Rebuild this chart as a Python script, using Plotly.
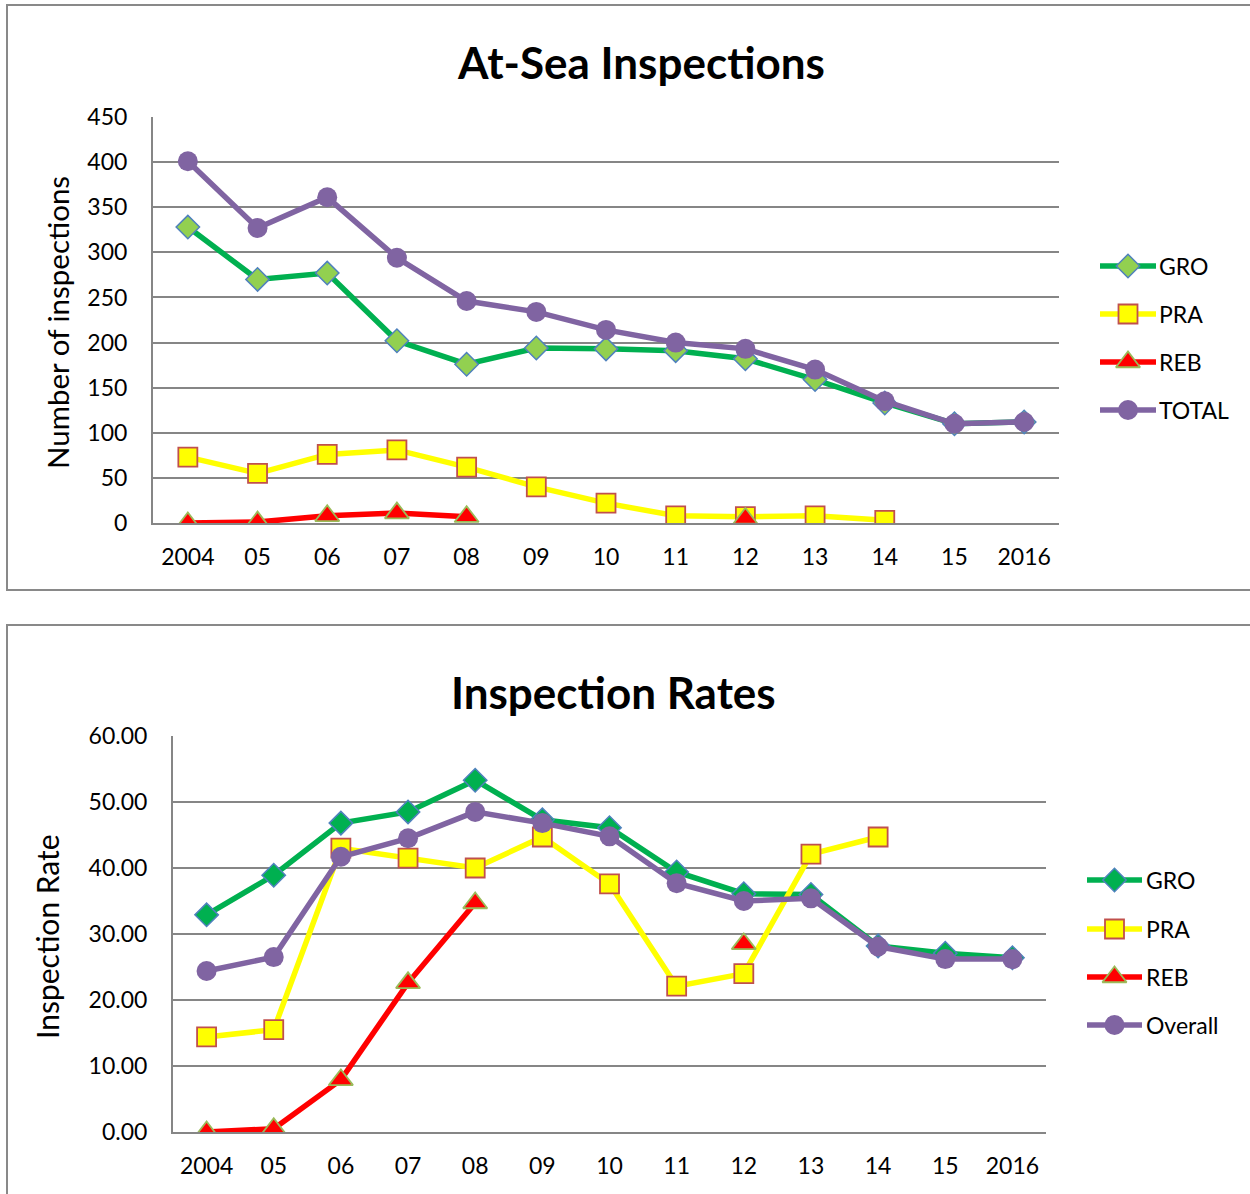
import plotly.graph_objects as go

W, H = 1250, 1194

years = ["2004", "05", "06", "07", "08", "09", "10", "11", "12", "13", "14", "15", "2016"]

# At-Sea Inspections (counts)
gro_count = [328, 270, 277, 202, 176, 194, 193, 191, 182, 159, 133, 110, 112]
pra_count = [73, 55, 76, 81, 62, 40, 22, 8, 7, 8, 3, None, None]
reb_count = [0, 1, 8, 11, 7, None, None, None, 5, None, None, None, None]
total_count = [401, 327, 361, 294, 246, 234, 214, 200, 193, 170, 135, 110, 112]

# Inspection Rates
gro_rate = [32.9, 38.9, 46.8, 48.5, 53.3, 47.3, 46.1, 39.4, 36.1, 36.0, 28.2, 27.1, 26.4]
pra_rate = [14.4, 15.5, 43.0, 41.5, 40.0, 44.7, 37.6, 22.1, 24.0, 42.1, 44.7, None, None]
reb_rate = [0.0, 0.5, 7.9, 22.6, 34.7, None, None, None, 28.5, None, None, None, None]
overall_rate = [24.4, 26.5, 41.7, 44.5, 48.5, 46.8, 44.8, 37.7, 35.0, 35.4, 28.1, 26.2, 26.2]

FONT = "Lato"
GRID = "#868686"
LINE_W = 5.5


def px_x(x):
    return x / W


def px_y(y):
    return 1 - y / H


# marker styles per series
MK_GRO_TOP = dict(symbol="diamond", size=18, color="#92D050", line=dict(color="#4F81BD", width=1.5))
MK_GRO_BOT = dict(symbol="diamond", size=18, color="#00B050", line=dict(color="#4F81BD", width=1.5))
MK_PRA = dict(symbol="square", size=19, color="#FFFF00", line=dict(color="#C0504D", width=1.8))
MK_REB = dict(symbol="triangle-up", size=21, color="#FF0000", line=dict(color="#9BBB59", width=1.8))
MK_TOT = dict(symbol="circle", size=20, color="#8064A2", line=dict(color="#8064A2", width=0))

series_top = [
    ("GRO", gro_count, "#00B050", MK_GRO_TOP),
    ("PRA", pra_count, "#FFFF00", MK_PRA),
    ("REB", reb_count, "#FF0000", MK_REB),
    ("TOTAL", total_count, "#8064A2", MK_TOT),
]
series_bot = [
    ("GRO", gro_rate, "#00B050", MK_GRO_BOT),
    ("PRA", pra_rate, "#FFFF00", MK_PRA),
    ("REB", reb_rate, "#FF0000", MK_REB),
    ("Overall", overall_rate, "#8064A2", MK_TOT),
]

fig = go.Figure()

for name, vals, col, mk in series_top:
    fig.add_trace(go.Scatter(
        x=years, y=vals, name=name, mode="lines+markers",
        line=dict(color=col, width=LINE_W), marker=mk, connectgaps=False,
        xaxis="x", yaxis="y", showlegend=False,
    ))

for name, vals, col, mk in series_bot:
    fig.add_trace(go.Scatter(
        x=years, y=vals, name=name, mode="lines+markers",
        line=dict(color=col, width=LINE_W), marker=mk, connectgaps=False,
        xaxis="x2", yaxis="y2", showlegend=False,
    ))

# Legend keys drawn on a pixel-space overlay axis (line swatch + marker + label)
legend_top_rows = [266, 314, 362, 410]
legend_bot_rows = [880, 929, 977, 1025]
legend_annotations = []


def add_legend(series, rows, x0, x1, text_x):
    for (name, _, col, mk), yy in zip(series, rows):
        fig.add_trace(go.Scatter(
            x=[x0, x1], y=[yy, yy], mode="lines", line=dict(color=col, width=LINE_W),
            xaxis="x3", yaxis="y3", showlegend=False, hoverinfo="skip",
        ))
        fig.add_trace(go.Scatter(
            x=[(x0 + x1) / 2], y=[yy], mode="markers", marker=mk,
            xaxis="x3", yaxis="y3", showlegend=False, hoverinfo="skip",
        ))
        legend_annotations.append(dict(
            text=name, xref="paper", yref="paper", x=px_x(text_x), y=px_y(yy),
            xanchor="left", yanchor="middle", showarrow=False,
            font=dict(family=FONT, size=23, color="#000000"),
        ))


add_legend(series_top, legend_top_rows, 1100, 1156, 1157)
add_legend(series_bot, legend_bot_rows, 1087, 1142, 1144)

tick_font = dict(family=FONT, size=23, color="#000000")

axis_common = dict(
    type="category", range=[-0.5, 12.5], showgrid=False, showline=True,
    linecolor=GRID, linewidth=2, ticks="", tickfont=tick_font,
    ticklabelstandoff=12, fixedrange=True, automargin=False,
)
yaxis_common = dict(
    showgrid=True, gridcolor=GRID, gridwidth=2, showline=True, linecolor=GRID,
    linewidth=2, zeroline=False, ticks="", tickfont=tick_font,
    ticklabelstandoff=19, fixedrange=True, automargin=False,
)

fig.update_layout(
    width=W, height=H,
    margin=dict(l=0, r=0, t=0, b=0, pad=0, autoexpand=False),
    paper_bgcolor="white", plot_bgcolor="rgba(0,0,0,0)",
    showlegend=False,
    xaxis=dict(domain=[px_x(153), px_x(1059)], anchor="y", **axis_common),
    yaxis=dict(domain=[px_y(523), px_y(117)], anchor="x", range=[0, 450],
               tickvals=list(range(0, 451, 50)), **yaxis_common),
    xaxis2=dict(domain=[px_x(173), px_x(1046)], anchor="y2", **axis_common),
    yaxis2=dict(domain=[px_y(1132), px_y(736)], anchor="x2", range=[0, 60],
                tickvals=list(range(0, 61, 10)), tickformat=".2f", **yaxis_common),
    xaxis3=dict(domain=[0, 1], range=[0, W], visible=False, fixedrange=True),
    yaxis3=dict(domain=[0, 1], range=[H, 0], visible=False, fixedrange=True,
                anchor="x3"),
    shapes=[
        dict(type="rect", xref="paper", yref="paper",
             x0=px_x(7), x1=px_x(1262), y0=px_y(590), y1=px_y(5),
             line=dict(color="#898989", width=2), fillcolor="rgba(0,0,0,0)", layer="below"),
        dict(type="rect", xref="paper", yref="paper",
             x0=px_x(7), x1=px_x(1262), y0=px_y(1210), y1=px_y(625),
             line=dict(color="#898989", width=2), fillcolor="rgba(0,0,0,0)", layer="below"),
    ],
    annotations=[
        dict(text="<b>At-Sea Inspections</b>", xref="paper", yref="paper",
             x=px_x(641), y=px_y(62), xanchor="center", yanchor="middle",
             showarrow=False, font=dict(family=FONT, size=44, color="#000000")),
        dict(text="<b>Inspection Rates</b>", xref="paper", yref="paper",
             x=px_x(613), y=px_y(692), xanchor="center", yanchor="middle",
             showarrow=False, font=dict(family=FONT, size=44, color="#000000")),
        dict(text="Number of inspections", xref="paper", yref="paper",
             x=px_x(58), y=px_y(323), xanchor="center", yanchor="middle",
             textangle=-90, showarrow=False,
             font=dict(family=FONT, size=29.5, color="#000000")),
        dict(text="Inspection Rate", xref="paper", yref="paper",
             x=px_x(47), y=px_y(937), xanchor="center", yanchor="middle",
             textangle=-90, showarrow=False,
             font=dict(family=FONT, size=30, color="#000000")),
    ] + legend_annotations,
)

fig.write_html("out.html")
